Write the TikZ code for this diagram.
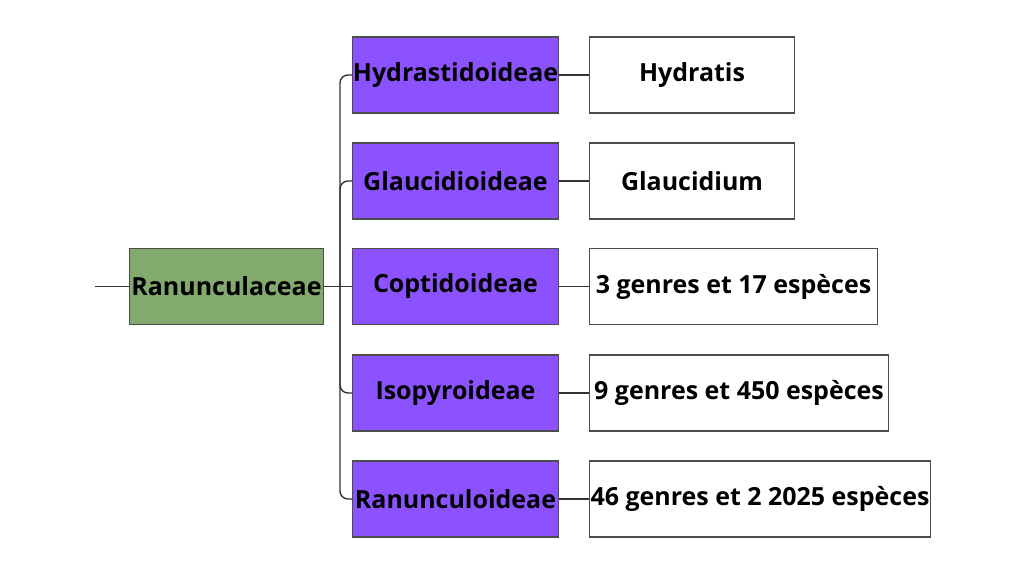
\documentclass[tikz,border=0pt]{standalone}
\usepackage{fontspec}
\setmainfont{Open Sans}
\usetikzlibrary{positioning}
\definecolor{root-green}{HTML}{82AA6F}
\definecolor{sub-purple}{HTML}{8C52FF}

\begin{document}
\begin{tikzpicture}[x=0.01cm,y=-0.01cm,
	box/.style={draw=black!70,line width=0.3pt,minimum height=0.76cm,inner sep=0pt,
		font=\fontsize{7.1}{8.5}\selectfont\bfseries},
	rootbox/.style={box,fill=root-green,minimum width=1.93cm},
	subbox/.style={box,fill=sub-purple,minimum width=2.05cm},
	infobox/.style={box,fill=white},
	link/.style={draw=black!80,line width=0.4pt,rounded corners=0.08cm}]

	%--- FRAME ------------------------------
	\useasboundingbox (0,0) rectangle (1024,576);

	%--- NODES ------------------------------
	\node [rootbox] (root) at (226.5,286.5) {Ranunculaceae};
	\coordinate (start) at (95,286.5);

	\node [subbox] (hyd) at (455.5,75) {Hydrastidoideae};
	\node [subbox] (gla) at (455.5,181) {Glaucidioideae};
	\node [subbox] (cop) at (455.5,286.5) {Coptidoideae};
	\node [subbox] (iso) at (455.5,393) {Isopyroideae};
	\node [subbox] (ran) at (455.5,499) {Ranunculoideae};

	\node [infobox,minimum width=2.04cm] (hydI) at (692,75) {Hydratis};
	\node [infobox,minimum width=2.04cm] (glaI) at (692,181) {Glaucidium};
	\node [infobox,minimum width=2.87cm] (copI) at (733.5,286.5) {3 genres et 17 espèces};
	\node [infobox,minimum width=2.98cm] (isoI) at (739,393) {9 genres et 450 espèces};
	\node [infobox,minimum width=3.40cm] (ranI) at (760,499) {46 genres et 2 2025 espèces};

	%--- CONNECTORS -------------------------
	\draw [link] (start) -- (root.west);
	\coordinate (fork) at (340,286.5);
	\draw [link] (root.east) -- (fork) -- (cop.west);
	\foreach \s in {hyd,gla,iso,ran}{
		\draw [link] (fork) |- (\s.west);
	}
	\foreach \s in {hyd,gla,cop,iso,ran}{
		\draw [link] (\s.east) -- (\s I.west);
	}

\end{tikzpicture}
\end{document}
